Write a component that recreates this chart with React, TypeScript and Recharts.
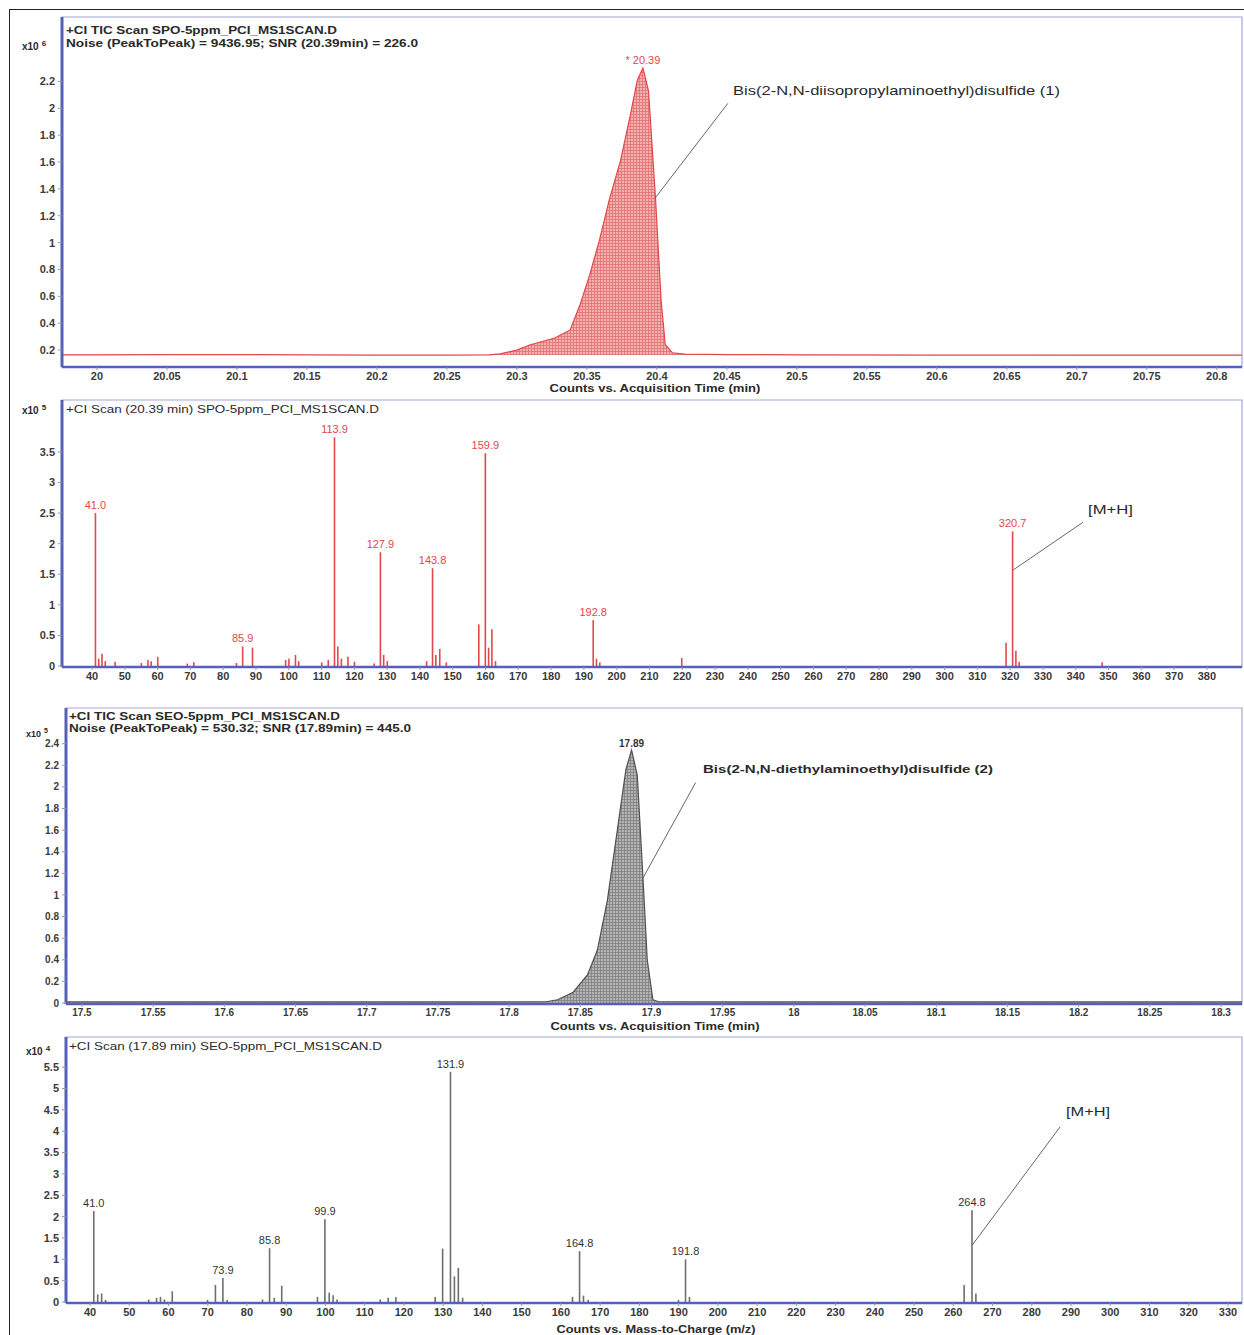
import React from "react";
import {
  ComposedChart,
  Area,
  Bar,
  XAxis,
  YAxis,
  ReferenceArea,
  ReferenceLine,
  ReferenceDot,
  LabelList,
} from "recharts";

const FONT = '"Liberation Sans", Arial, sans-serif';
const RED = "#e2474b";
const GRAY = "#6e6e6e";
const AXIS_BLUE = "#5560b8";
const FRAME = "#a3a7d8";

// ---- panel 1: TIC, SPO (x10^6 counts) ----
const spoTime = [19.975, 20.0, 20.05, 20.1, 20.15, 20.2, 20.25, 20.28, 20.288, 20.3, 20.309, 20.327, 20.338, 20.345, 20.352, 20.359, 20.366, 20.374, 20.381, 20.386, 20.39, 20.394, 20.399, 20.403, 20.406, 20.411, 20.42, 20.45, 20.5, 20.6, 20.7, 20.818];
const spoCounts = [0.165, 0.165, 0.166, 0.166, 0.164, 0.163, 0.163, 0.165, 0.172, 0.2, 0.238, 0.29, 0.35, 0.535, 0.76, 1.02, 1.32, 1.61, 1.95, 2.21, 2.3, 2.13, 1.33, 0.57, 0.24, 0.18, 0.17, 0.166, 0.165, 0.163, 0.162, 0.162];
const spoBase = 0.164;
const spoTicks = [20, 20.05, 20.1, 20.15, 20.2, 20.25, 20.3, 20.35, 20.4, 20.45, 20.5, 20.55, 20.6, 20.65, 20.7, 20.75, 20.8];
const spoYTicks = [0.2, 0.4, 0.6, 0.8, 1, 1.2, 1.4, 1.6, 1.8, 2, 2.2];

// ---- panel 2: spectrum at 20.39 min (x10^5) ----
const spoMz = [41.0, 42, 43, 44, 47, 55, 57, 58, 60, 69, 71, 84, 85.9, 88.9, 99, 100, 102, 103, 110, 112, 113.9, 114.9, 116, 118, 120, 126, 127.9, 128.9, 130, 142, 143.8, 144.8, 146, 148, 157.9, 159.9, 160.9, 161.9, 163, 192.8, 193.8, 194.8, 219.8, 318.7, 320.7, 321.7, 322.7, 348];
const spoAbund = [2.5, 0.12, 0.2, 0.08, 0.07, 0.05, 0.1, 0.08, 0.15, 0.04, 0.06, 0.05, 0.32, 0.3, 0.1, 0.12, 0.18, 0.08, 0.06, 0.1, 3.74, 0.32, 0.12, 0.15, 0.07, 0.04, 1.86, 0.18, 0.08, 0.08, 1.6, 0.18, 0.28, 0.06, 0.68, 3.48, 0.3, 0.6, 0.08, 0.75, 0.12, 0.06, 0.13, 0.38, 2.2, 0.25, 0.07, 0.06];
const spoLabelled = [41.0, 85.9, 113.9, 127.9, 143.8, 159.9, 192.8, 320.7];
const spoMzTicks = [40, 50, 60, 70, 80, 90, 100, 110, 120, 130, 140, 150, 160, 170, 180, 190, 200, 210, 220, 230, 240, 250, 260, 270, 280, 290, 300, 310, 320, 330, 340, 350, 360, 370, 380];
const spoAbTicks = [0, 0.5, 1, 1.5, 2, 2.5, 3, 3.5];

// ---- panel 3: TIC, SEO (x10^5 counts) ----
const seoTime = [17.489, 17.55, 17.6, 17.65, 17.7, 17.75, 17.8, 17.826, 17.834, 17.845, 17.855, 17.862, 17.869, 17.876, 17.882, 17.886, 17.89, 17.894, 17.897, 17.901, 17.905, 17.95, 18.0, 18.1, 18.2, 18.315];
const seoCounts = [0.01, 0.01, 0.01, 0.01, 0.01, 0.01, 0.01, 0.012, 0.03, 0.1, 0.26, 0.49, 0.95, 1.6, 2.16, 2.34, 2.11, 1.16, 0.4, 0.03, 0.012, 0.01, 0.01, 0.01, 0.01, 0.01];
const seoTicks = [17.5, 17.55, 17.6, 17.65, 17.7, 17.75, 17.8, 17.85, 17.9, 17.95, 18, 18.05, 18.1, 18.15, 18.2, 18.25, 18.3];
const seoYTicks = [0, 0.2, 0.4, 0.6, 0.8, 1, 1.2, 1.4, 1.6, 1.8, 2, 2.2, 2.4];

// ---- panel 4: spectrum at 17.89 min (x10^4) ----
const seoMz = [41.0, 42, 43, 44, 55, 57, 58, 59, 61, 70, 72, 73.9, 75, 84, 85.8, 87, 88.9, 98, 99.9, 101, 102, 103, 114, 116, 118, 128, 129.9, 131.9, 132.9, 133.9, 135, 163, 164.8, 165.8, 167, 190, 191.8, 192.8, 262.8, 264.8, 265.8];
const seoAbund = [2.13, 0.18, 0.2, 0.05, 0.06, 0.1, 0.12, 0.06, 0.25, 0.05, 0.4, 0.56, 0.05, 0.06, 1.26, 0.1, 0.38, 0.12, 1.94, 0.22, 0.16, 0.06, 0.06, 0.1, 0.12, 0.12, 1.25, 5.39, 0.6, 0.8, 0.1, 0.12, 1.19, 0.15, 0.05, 0.05, 1.0, 0.12, 0.4, 2.15, 0.2];
const seoLabelled = [41.0, 73.9, 85.8, 99.9, 131.9, 164.8, 191.8, 264.8];
const seoMzTicks = [40, 50, 60, 70, 80, 90, 100, 110, 120, 130, 140, 150, 160, 170, 180, 190, 200, 210, 220, 230, 240, 250, 260, 270, 280, 290, 300, 310, 320, 330];
const seoAbTicks = [0, 0.5, 1, 1.5, 2, 2.5, 3, 3.5, 4, 4.5, 5, 5.5];

const fmt = (v: number) => String(+v.toFixed(2));

const tickStyle = (size: number) => ({ fill: "#3a3a3a", fontSize: size, fontWeight: 700, fontFamily: FONT });

function Frame({ x, y }: { x: number[]; y: number[] }) {
  return <ReferenceArea x1={x[0]} x2={x[1]} y1={y[0]} y2={y[1]} fill="none" stroke={FRAME} strokeWidth={1.2} />;
}

export default function App() {
  const spoTic = spoTime.map((t, i) => ({ t, v: spoCounts[i] }));
  const seoTic = seoTime.map((t, i) => ({ t, v: seoCounts[i] }));
  const spoSpec = spoMz.map((mz, i) => ({ mz, v: spoAbund[i], label: spoLabelled.includes(mz) ? mz.toFixed(1) : "" }));
  const seoSpec = seoMz.map((mz, i) => ({ mz, v: seoAbund[i], label: seoLabelled.includes(mz) ? mz.toFixed(1) : "" }));

  const d1x = [19.975, 20.818];
  const d1y = [0.074, 2.68];
  const d2x = [30.85, 390.7];
  const d2y = [-0.016, 4.35];
  const d3x = [17.4888, 18.3147];
  const d3y = [-0.009, 2.73];
  const d4x = [33.88, 333.57];
  const d4y = [-0.023, 6.206];

  const xAxisCommon = {
    type: "number" as const,
    allowDataOverflow: true,
    axisLine: { stroke: AXIS_BLUE, strokeWidth: 2.5 },
    tickLine: { stroke: "#999" },
    tickSize: 3,
    tickMargin: 2,
    interval: 0 as const,
  };
  const yAxisCommon = {
    type: "number" as const,
    allowDataOverflow: true,
    axisLine: { stroke: AXIS_BLUE, strokeWidth: 3 },
    tickLine: { stroke: "#999" },
    tickSize: 4,
    tickMargin: 3,
    interval: 0 as const,
  };

  return (
    <div style={{ position: "absolute", left: 0, top: 0, width: 1244, height: 1335, background: "#fff", fontFamily: FONT }}>
      <div style={{ position: "absolute", left: 9, top: 9, width: 1240, height: 1330, borderLeft: "1px solid #222", borderTop: "1px solid #222" }} />

      {/* panel 1 */}
      <div style={{ position: "absolute", left: 0, top: 0 }}>
        <ComposedChart width={1244} height={398} data={spoTic} margin={{ top: 17, right: 2, bottom: 0, left: 0 }}>
          <defs>
            <pattern id="hatchRed" width="3" height="3" patternUnits="userSpaceOnUse">
              <rect width="3" height="3" fill="#f5b0b0" />
              <path d="M0 0.5 H3 M0.5 0 V3" stroke="#e06a6a" strokeWidth="0.7" />
            </pattern>
          </defs>
          <Frame x={d1x} y={d1y} />
          <XAxis dataKey="t" {...xAxisCommon} domain={d1x} ticks={spoTicks} tickFormatter={fmt} height={31} tick={tickStyle(11)} />
          <YAxis {...yAxisCommon} domain={d1y} ticks={spoYTicks} tickFormatter={fmt} width={62} tick={tickStyle(11)} />
          <Area type="linear" dataKey="v" baseValue={spoBase} stroke={RED} strokeWidth={1.2} fill="url(#hatchRed)" fillOpacity={1} dot={false} isAnimationActive={false} />
          <ReferenceDot x={20.39} y={2.3} r={0} label={{ value: "* 20.39", position: "top", fill: RED, fontSize: 11, offset: 4 }} />
          <ReferenceLine segment={[{ x: 20.4507, y: 2.037 }, { x: 20.3986, y: 1.33 }]} stroke="#666" strokeWidth={1} ifOverflow="visible" />
        </ComposedChart>
      </div>

      {/* panel 2 */}
      <div style={{ position: "absolute", left: 0, top: 392 }}>
        <ComposedChart width={1244} height={308} data={spoSpec} margin={{ top: 8, right: 2, bottom: 0, left: 0 }}>
          <Frame x={d2x} y={d2y} />
          <XAxis dataKey="mz" {...xAxisCommon} domain={d2x} ticks={spoMzTicks} height={33} tick={tickStyle(11)} />
          <YAxis {...yAxisCommon} domain={d2y} ticks={spoAbTicks} tickFormatter={fmt} width={62} tick={tickStyle(11)} />
          <Bar dataKey="v" fill={RED} barSize={1.6} isAnimationActive={false}>
            <LabelList dataKey="label" position="top" offset={4} fill={RED} fontSize={11} fontFamily={FONT} />
          </Bar>
          <ReferenceLine segment={[{ x: 342.2, y: 2.35 }, { x: 320.9, y: 1.57 }]} stroke="#666" strokeWidth={1} ifOverflow="visible" />
        </ComposedChart>
      </div>

      {/* panel 3 */}
      <div style={{ position: "absolute", left: 0, top: 700 }}>
        <ComposedChart width={1244} height={335} data={seoTic} margin={{ top: 8, right: 2, bottom: 0, left: 0 }}>
          <defs>
            <pattern id="hatchGray" width="3" height="3" patternUnits="userSpaceOnUse">
              <rect width="3" height="3" fill="#b4b4b4" />
              <path d="M0 0.5 H3 M0.5 0 V3" stroke="#7a7a7a" strokeWidth="0.7" />
            </pattern>
          </defs>
          <Frame x={d3x} y={d3y} />
          <XAxis dataKey="t" {...xAxisCommon} domain={d3x} ticks={seoTicks} tickFormatter={fmt} height={31} tick={tickStyle(10)} />
          <YAxis {...yAxisCommon} domain={d3y} ticks={seoYTicks} tickFormatter={fmt} width={66} tick={tickStyle(10)} />
          <Area type="linear" dataKey="v" baseValue={0} stroke="#505050" strokeWidth={1.2} fill="url(#hatchGray)" fillOpacity={1} dot={false} isAnimationActive={false} />
          <ReferenceDot x={17.886} y={2.34} r={0} label={{ value: "17.89", position: "top", fill: "#333", fontSize: 10, fontWeight: 700, offset: 3 }} />
          <ReferenceLine segment={[{ x: 17.931, y: 2.04 }, { x: 17.894, y: 1.157 }]} stroke="#666" strokeWidth={1} ifOverflow="visible" />
        </ComposedChart>
      </div>

      {/* panel 4 */}
      <div style={{ position: "absolute", left: 0, top: 1035 }}>
        <ComposedChart width={1244} height={300} data={seoSpec} margin={{ top: 2, right: 2, bottom: 0, left: 0 }}>
          <Frame x={d4x} y={d4y} />
          <XAxis dataKey="mz" {...xAxisCommon} domain={d4x} ticks={seoMzTicks} height={32} tick={tickStyle(11)} />
          <YAxis {...yAxisCommon} domain={d4y} ticks={seoAbTicks} tickFormatter={fmt} width={66} tick={tickStyle(11)} />
          <Bar dataKey="v" fill={GRAY} barSize={1.6} isAnimationActive={false}>
            <LabelList dataKey="label" position="top" offset={4} fill="#333" fontSize={11} fontFamily={FONT} />
          </Bar>
          <ReferenceLine segment={[{ x: 287.2, y: 4.1 }, { x: 264.8, y: 1.33 }]} stroke="#666" strokeWidth={1} ifOverflow="visible" />
        </ComposedChart>
      </div>

      {/* text overlay */}
      <svg width={1244} height={1335} style={{ position: "absolute", left: 0, top: 0, pointerEvents: "none" }} fontFamily={FONT}>
        <g fill="#2a2a2a" fontWeight={700}>
          <text x={22} y={50} fontSize={10}>x10<tspan dx={3} dy={-4} fontSize={8}>6</tspan></text>
          <text x={66} y={34} fontSize={11} textLength={271} lengthAdjust="spacingAndGlyphs">+CI TIC Scan SPO-5ppm_PCI_MS1SCAN.D</text>
          <text x={66} y={47} fontSize={11} textLength={352} lengthAdjust="spacingAndGlyphs">Noise (PeakToPeak) = 9436.95; SNR (20.39min) = 226.0</text>
          <text x={655} y={392} fontSize={11} textAnchor="middle" textLength={211} lengthAdjust="spacingAndGlyphs">Counts vs. Acquisition Time (min)</text>

          <text x={22} y={414} fontSize={10}>x10<tspan dx={3} dy={-4} fontSize={8}>5</tspan></text>
          <text x={66} y={413} fontSize={11} fontWeight={400} textLength={313} lengthAdjust="spacingAndGlyphs">+CI Scan (20.39 min) SPO-5ppm_PCI_MS1SCAN.D</text>

          <text x={26} y={737} fontSize={9}>x10<tspan dx={3} dy={-4} fontSize={7}>5</tspan></text>
          <text x={69} y={720} fontSize={10} textLength={271} lengthAdjust="spacingAndGlyphs">+CI TIC Scan SEO-5ppm_PCI_MS1SCAN.D</text>
          <text x={69} y={732} fontSize={10} textLength={342} lengthAdjust="spacingAndGlyphs">Noise (PeakToPeak) = 530.32; SNR (17.89min) = 445.0</text>
          <text x={655} y={1030} fontSize={10} textAnchor="middle" textLength={209} lengthAdjust="spacingAndGlyphs">Counts vs. Acquisition Time (min)</text>

          <text x={26} y={1055} fontSize={10}>x10<tspan dx={3} dy={-4} fontSize={8}>4</tspan></text>
          <text x={69} y={1050} fontSize={11} fontWeight={400} textLength={313} lengthAdjust="spacingAndGlyphs">+CI Scan (17.89 min) SEO-5ppm_PCI_MS1SCAN.D</text>
          <text x={656} y={1333} fontSize={10} textAnchor="middle" textLength={199} lengthAdjust="spacingAndGlyphs">Counts vs. Mass-to-Charge (m/z)</text>
        </g>
        <g fill="#2a2a2a">
          <text x={733} y={95} fontSize={13} textLength={327} lengthAdjust="spacingAndGlyphs">Bis(2-N,N-diisopropylaminoethyl)disulfide (1)</text>
          <text x={1088} y={514} fontSize={13} textLength={45} lengthAdjust="spacingAndGlyphs">[M+H]</text>
          <text x={703} y={773} fontSize={11} fontWeight={700} textLength={290} lengthAdjust="spacingAndGlyphs">Bis(2-N,N-diethylaminoethyl)disulfide (2)</text>
          <text x={1066} y={1116} fontSize={13} textLength={44} lengthAdjust="spacingAndGlyphs">[M+H]</text>
        </g>
      </svg>
    </div>
  );
}
